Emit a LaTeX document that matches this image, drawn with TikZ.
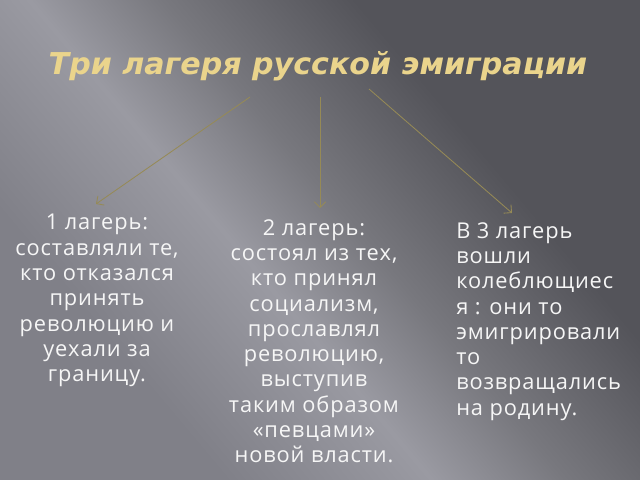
\documentclass[tikz,border=0pt]{standalone}
\usepackage{fontspec}
\setmainfont{Open Sans}[LetterSpace=4]
\newfontfamily\titlefont{DejaVu Sans}
\usepackage{tikz}
\usetikzlibrary{arrows.meta, positioning}
\definecolor{titlegold}{RGB}{234,212,140}
\definecolor{arrowolive}{RGB}{150,138,86}
\definecolor{textwhite}{RGB}{246,246,246}
\definecolor{bgA}{RGB}{128,128,136}
\definecolor{bgB}{RGB}{154,154,162}
\definecolor{bgC}{RGB}{120,120,126}
\definecolor{bgD}{RGB}{84,84,90}
\pgfdeclarehorizontalshading{slidebg}{100bp}{color(0bp)=(bgA); color(30bp)=(bgA); color(44bp)=(bgB); color(53bp)=(bgC); color(66bp)=(bgD); color(100bp)=(bgD)}
\tikzset{
    camp/.style={text=textwhite, inner sep=0pt, font=\fontsize{15.5}{18}\selectfont},
    link/.style={-{Straight Barb[length=4pt, width=8pt]}, arrowolive, line width=0.6pt}
}

\begin{document}
\begin{tikzpicture}[x=0.025cm, y=-0.025cm]
    % Background
    \useasboundingbox (0,0) rectangle (640,480);
    \fill[shading=slidebg, shading angle=40] (0,0) rectangle (640,480);
    % Title
    \node[text=titlegold, font=\titlefont\bfseries\itshape\fontsize{21.4}{26}\selectfont, anchor=base] (title) at (318,74) {Три лагеря русской эмиграции};
    % Camps
    \node[camp, align=center, anchor=north] (camp1) at (97,214) {1 лагерь:\\составляли те,\\кто отказался\\принять\\революцию и\\уехали за\\границу.};
    \node[camp, align=center, anchor=north] (camp2) at (314,219) {2 лагерь:\\состоял из тех,\\кто принял\\социализм,\\прославлял\\революцию,\\выступив\\таким образом\\«певцами»\\новой власти.};
    \node[camp, align=left, anchor=north west] (camp3) at (456,222) {В 3 лагерь\\вошли\\колеблющиес\\я : они то\\эмигрировали\\то\\возвращались\\на родину.};
    % Arrows
    \coordinate (from1) at (250,97);
    \coordinate (from2) at (320,97);
    \coordinate (from3) at (369,89);
    \coordinate (to1) at (96,204);
    \coordinate (to2) at (320,208);
    \coordinate (to3) at (512,213);
    \draw[link] (from1) -- (to1);
    \draw[link] (from2) -- (to2);
    \draw[link] (from3) -- (to3);
\end{tikzpicture}
\end{document}
